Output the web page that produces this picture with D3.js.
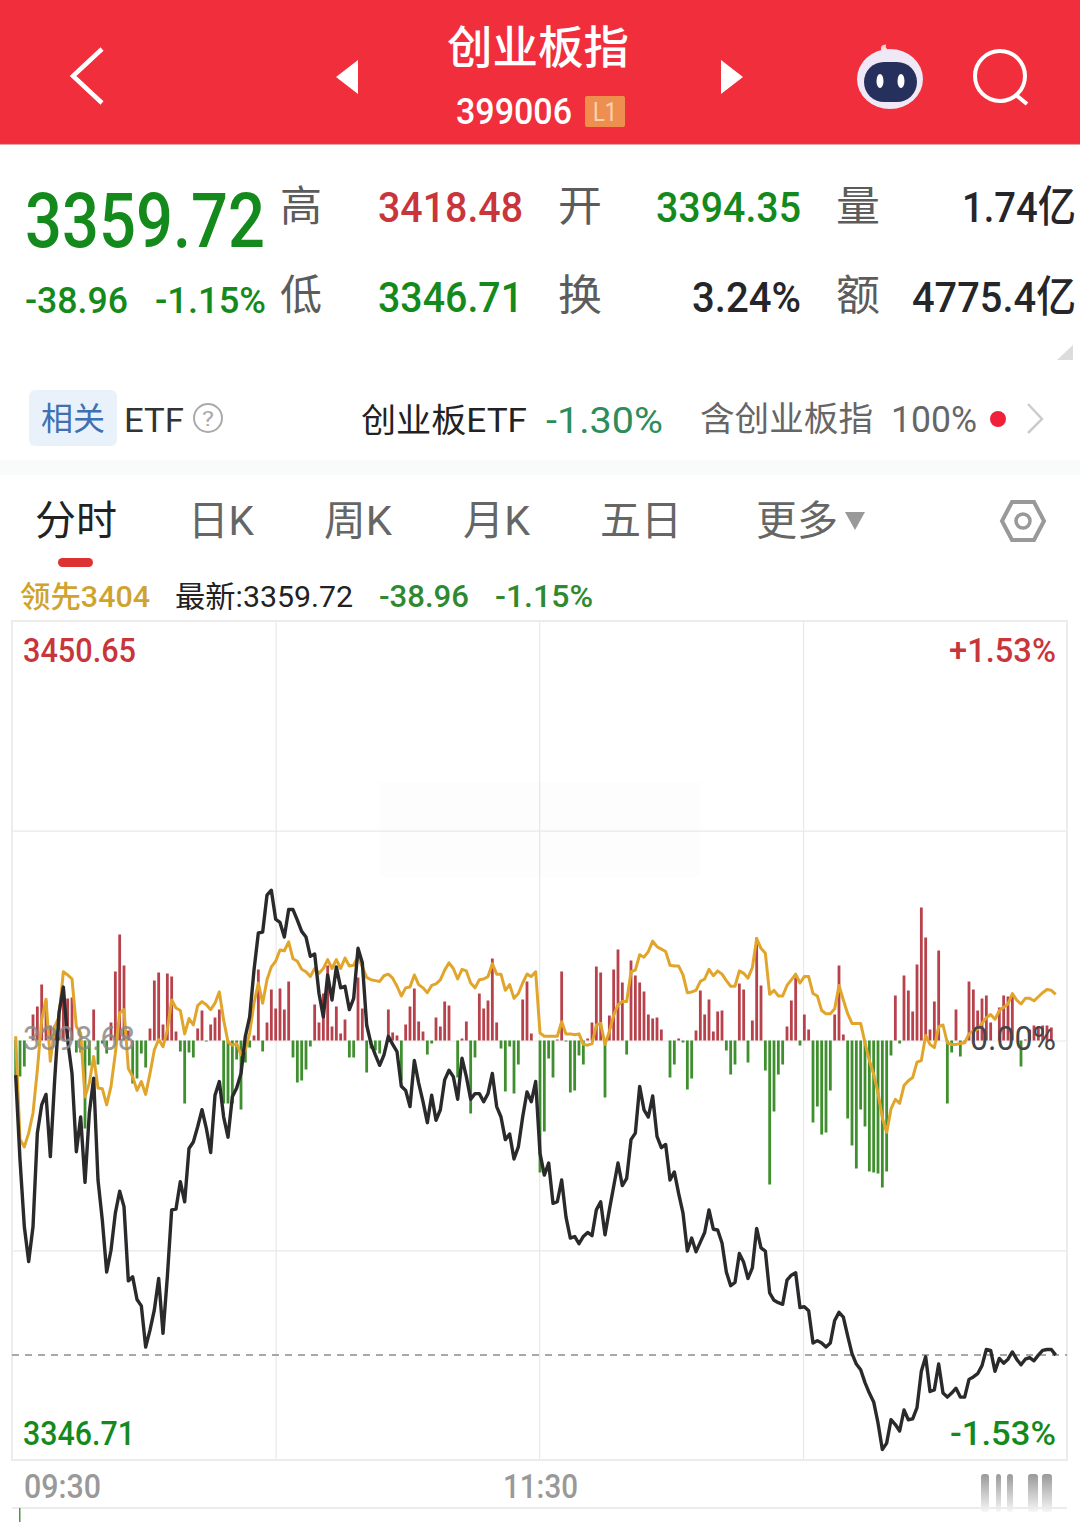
<!DOCTYPE html>
<html>
<head>
<meta charset="utf-8">
<script src="https://cdn.jsdelivr.net/npm/d3@7"></script>
<style>
html, body { margin: 0; padding: 0; background: #fff; }
svg { display: block; }
text { font-family: "Roboto", "Noto Sans CJK SC", sans-serif; }
</style>
</head>
<body>
<div id="chart"></div>
<script>
// price line, one value a minute
var priceValues = [
3394.4,3383.9,3375.6,3371.3,3375.6,3387.2,3390.7,3392.0,3384.3,3393.8,
3402.1,3405.3,3398.7,3394.6,3384.9,3389.2,3381.1,3389.7,3394.0,3381.4,
3376.4,3370.0,3372.7,3377.3,3380.0,3378.1,3368.9,3369.4,3366.6,3365.8,
3360.7,3362.8,3365.3,3369.2,3362.4,3369.4,3377.7,3377.8,3381.2,3378.7,
3385.3,3386.1,3388.0,3390.1,3387.8,3384.8,3391.9,3393.6,3389.2,3386.7,
3391.7,3392.8,3394.6,3399.2,3401.6,3407.4,3412.0,3412.1,3416.7,3417.3,
3413.7,3413.3,3411.5,3414.9,3414.9,3413.6,3412.2,3411.5,3409.1,3409.4,
3404.5,3401.6,3406.8,3403.7,3407.8,3405.2,3405.4,3402.5,3403.9,3410.1,
3408.3,3400.6,3398.3,3396.9,3395.6,3396.9,3399.2,3398.2,3397.3,3393.0,
3392.5,3390.5,3396.2,3393.4,3391.1,3388.5,3391.9,3388.8,3390.1,3393.8,
3395.0,3394.2,3391.4,3396.5,3394.2,3391.4,3392.1,3392.1,3391.1,3392.1,
3394.6,3390.5,3389.2,3386.4,3387.1,3384.0,3385.5,3389.2,3392.3,3391.1,
3393.6,3384.7,3382.0,3383.5,3378.5,3378.7,3381.4,3376.8,3374.2,3374.4,
3373.5,3374.4,3374.9,3374.5,3377.7,3378.7,3374.6,3377.7,3380.6,3383.5,
3380.7,3381.6,3386.4,3387.2,3393.0,3390.1,3389.2,3391.8,3386.8,3385.4,
3385.8,3381.4,3382.4,3379.7,3377.3,3372.6,3374.2,3372.5,3373.7,3374.9,
3377.7,3375.3,3375.2,
3373.6,3370.0,3368.3,3368.7,3372.3,3371.2,3369.2,3370.5,3375.4,3373.0,
3372.6,3367.4,3366.5,3366.2,3366.0,3369.0,3369.6,3369.9,3365.6,3365.7,
3365.2,3361.2,3361.5,3361.2,3360.7,3361.2,3364.0,3365.0,3364.4,3362.1,
3359.9,3358.6,3357.9,3356.3,3355.0,3353.9,3351.3,3348.0,3348.8,3351.7,
3351.1,3350.3,3352.9,3351.7,3351.8,3353.2,3357.7,3359.5,3355.2,3355.4,
3358.6,3355.0,3354.5,3355.0,3355.6,3354.5,3354.5,3356.7,3357.0,3357.4,
3358.4,3360.4,3360.3,3357.7,3359.3,3358.7,3359.2,3360.1,3359.2,3358.5,
3359.2,3359.4,3359.0,3359.7,3360.3,3360.4,3360.4,3359.7
];

// 领先 line
var leadValues = [
3399.2,3386.4,3385.5,3387.2,3389.7,3395.0,3401.2,3403.8,3396.1,3400.4,
3401.6,3407.2,3406.8,3406.3,3400.4,3399.6,3391.7,3393.4,3396.7,3392.8,
3392.7,3390.7,3393.0,3397.1,3402.1,3402.5,3395.2,3394.2,3392.5,3393.6,
3392.0,3394.6,3397.5,3398.8,3397.9,3400.0,3403.7,3402.7,3402.4,3399.5,
3401.4,3400.6,3403.0,3403.5,3403.1,3402.5,3403.3,3404.7,3401.2,3398.5,
3398.1,3398.3,3396.9,3397.5,3399.6,3403.3,3405.8,3403.3,3406.2,3407.8,
3408.5,3409.9,3409.8,3410.9,3408.8,3408.5,3407.5,3407.2,3406.6,3407.6,
3407.0,3407.6,3408.7,3407.6,3408.7,3407.6,3408.9,3407.9,3408.0,3409.1,
3407.8,3406.5,3406.2,3406.1,3406.0,3406.7,3406.9,3406.4,3405.4,3404.2,
3405.2,3405.3,3406.8,3405.6,3405.2,3404.6,3405.5,3405.7,3406.2,3407.4,
3408.3,3407.6,3406.3,3407.5,3407.3,3405.8,3405.2,3406.2,3406.3,3406.6,
3408.2,3406.9,3406.9,3404.9,3405.6,3403.9,3404.5,3405.8,3406.9,3406.6,
3407.2,3399.6,3399.2,3399.2,3399.2,3399.2,3401.0,3399.5,3399.5,3399.4,
3399.5,3398.2,3398.1,3398.3,3400.6,3400.8,3398.2,3399.8,3401.8,3403.1,
3403.5,3403.5,3407.2,3407.4,3409.3,3409.0,3409.7,3411.0,3410.3,3410.0,
3409.7,3408.0,3407.9,3407.9,3406.8,3404.6,3404.7,3404.9,3406.0,3406.3,
3407.5,3406.7,3407.3,
3406.9,3406.1,3405.4,3405.4,3407.3,3407.0,3406.4,3407.7,3411.3,3410.1,
3409.5,3404.4,3404.9,3404.2,3404.2,3405.5,3406.2,3406.9,3405.8,3406.6,
3406.6,3404.5,3404.2,3402.4,3402.0,3402.0,3402.6,3405.5,3403.7,3402.0,
3400.8,3400.8,3400.8,3398.4,3396.2,3394.5,3392.2,3389.1,3387.3,3390.2,
3391.4,3390.9,3393.1,3393.7,3394.1,3396.0,3396.2,3399.3,3398.2,3397.8,
3400.4,3400.6,3398.4,3398.2,3398.2,3398.3,3398.4,3399.5,3399.9,3400.1,
3400.8,3401.5,3401.9,3401.3,3402.4,3402.8,3403.2,3404.5,3403.7,3403.2,
3403.9,3403.9,3403.6,3404.1,3404.6,3405.0,3404.9,3404.4
];

// red/green strength bars
var barValues = [
-35,-36,-26,0,26,34,56,40,15,15,
25,53,42,43,-12,-12,-88,-25,31,-24,
-3,-13,18,69,106,75,10,-43,-38,-13,
-27,12,60,68,16,67,64,9,-11,-63,
-12,-17,12,30,-1,16,23,31,-63,-63,
-63,-19,-69,-22,-7,5,71,-11,18,51,
32,52,31,59,-17,-42,-40,-29,-6,36,
18,47,75,14,34,7,21,-17,-17,63,
32,-32,-8,-10,-13,0,31,8,5,-40,
16,34,52,19,9,-14,-3,23,14,39,
35,0,-37,2,19,-73,-17,47,32,40,
82,18,-8,-51,-6,-53,-24,41,59,7,
0,-132,-91,-18,-37,1,69,-1,-52,-50,
-15,-24,2,18,74,68,-57,25,71,91,
58,-14,80,65,58,49,26,22,23,11,
0,-37,-24,2,-2,-49,-38,10,50,26,
41,9,29,
30,-10,-34,-24,57,51,-22,20,103,55,
-30,-144,-71,-34,-24,14,40,63,-5,26,
11,-82,-66,-94,-92,-50,26,75,6,-78,
-105,-128,-69,-86,-131,-132,-133,-147,-131,-15,
45,-3,65,50,29,76,133,103,11,39,
90,0,-63,-12,31,-16,-1,59,51,30,
42,45,18,0,33,45,44,46,0,-26,
1,11,15,14,15,15,13,0
];

var yTicks = [3450.65, 3424.67, 3398.68, 3372.69, 3346.71];
var xTicks = [60, 120.8, 181.7];
var lastPrice = 3359.72;
var timeLabels = ["09:30", "11:30"];
var tabNames = ["分时", "日K", "周K", "月K", "五日", "更多"];

var width = 1080, height = 1522;
var red = "#c8363c", green = "#158a1c", dark = "#26262a", grey = "#5c5c5c";

var svg = d3.select("#chart").append("svg")
    .attr("width", width)
    .attr("height", height)
    .attr("viewBox", "0 0 " + width + " " + height);

// text squeezed to the width it has in the picture
function label(x0, x1, base, size, color, str, weight) {
    return svg.append("text")
        .attr("x", x0)
        .attr("y", base)
        .attr("font-size", size)
        .attr("font-weight", weight || 400)
        .attr("fill", color)
        .attr("textLength", x1 - x0)
        .attr("lengthAdjust", "spacingAndGlyphs")
        .text(str);
}

/* header */
svg.append("rect").attr("width", width).attr("height", 143).attr("fill", "#f12e3b");
svg.append("rect").attr("y", 143).attr("width", width).attr("height", 1.5).attr("fill", "#c9484f");

svg.append("path").attr("d", "M102,49L73,76L102,103")
    .attr("fill", "none").attr("stroke", "#fff").attr("stroke-width", 4.5);
svg.append("path").attr("d", "M358,60L336,77L358,94Z").attr("fill", "#fff");
svg.append("path").attr("d", "M721,60L743,77L721,94Z").attr("fill", "#fff");

label(447, 629, 64, 45, "#fff", "创业板指", 500);
label(456, 572, 124, 36, "#fff", "399006", 500);
svg.append("rect").attr("x", 585).attr("y", 96).attr("width", 40).attr("height", 31).attr("rx", 2).attr("fill", "#ee8f50");
label(593, 617, 121, 25, "#fbd3b4", "L1");

// robot
svg.append("path").attr("d", "M884,52Q880,46 886,46").attr("fill", "none").attr("stroke", "#f9c9cc").attr("stroke-width", 3);
svg.append("circle").attr("cx", 884).attr("cy", 50).attr("r", 3).attr("fill", "#fbdcdd");
svg.append("ellipse").attr("cx", 890).attr("cy", 79).attr("rx", 33).attr("ry", 30).attr("fill", "#efe8f6");
svg.append("rect").attr("x", 864).attr("y", 62).attr("width", 53).attr("height", 40).attr("rx", 20).attr("fill", "#26305c");
svg.append("ellipse").attr("cx", 880).attr("cy", 81).attr("rx", 3.5).attr("ry", 7).attr("fill", "#fff");
svg.append("ellipse").attr("cx", 901).attr("cy", 81).attr("rx", 3.5).attr("ry", 7).attr("fill", "#fff");

// search
svg.append("circle").attr("cx", 1000).attr("cy", 76).attr("r", 25)
    .attr("fill", "none").attr("stroke", "#fff").attr("stroke-width", 4);
svg.append("path").attr("d", "M1016,95L1027,104").attr("stroke", "#fff").attr("stroke-width", 4);

/* quote block */
label(25, 265, 247, 76, green, "3359.72", 500);
label(25, 128, 313, 36, green, "-38.96", 500);
label(155, 266, 313, 36, green, "-1.15%", 500);

label(280, 322, 221, 42, grey, "高");
label(280, 322, 310, 42, grey, "低");
label(378, 523, 222, 43, red, "3418.48", 500);
label(378, 523, 312, 43, green, "3346.71", 500);
label(558, 602, 221, 42, grey, "开");
label(558, 602, 310, 42, grey, "换");
label(656, 801, 222, 43, green, "3394.35", 500);
label(692, 801, 312, 43, dark, "3.24%", 500);
label(836, 880, 221, 42, grey, "量");
label(836, 880, 310, 42, grey, "额");
label(962, 1076, 222, 43, dark, "1.74亿", 500);
label(912, 1076, 312, 43, dark, "4775.4亿", 500);
svg.append("path").attr("d", "M1057,360L1073,360L1073,345Z").attr("fill", "#dcdcdc");

/* etf row */
svg.append("rect").attr("x", 29).attr("y", 390).attr("width", 88).attr("height", 56).attr("rx", 6).attr("fill", "#e9f1fb");
label(41, 105, 430, 32, "#3f70b2", "相关");
label(124, 184, 432, 34, "#333", "ETF");
svg.append("circle").attr("cx", 208).attr("cy", 418).attr("r", 14).attr("fill", "none").attr("stroke", "#aaa").attr("stroke-width", 2);
label(202, 214, 426, 21, "#aaa", "?");
label(361, 527, 432, 33, "#222", "创业板ETF");
label(546, 663, 433, 36, "#2d8c5c", "-1.30%");
label(700, 873, 431, 34, "#666", "含创业板指");
label(891, 977, 432, 36, "#666", "100%");
svg.append("circle").attr("cx", 998).attr("cy", 419).attr("r", 8).attr("fill", "#f0203a");
svg.append("path").attr("d", "M1028,404L1042,419L1028,433").attr("fill", "none").attr("stroke", "#ccc").attr("stroke-width", 2.5);
svg.append("rect").attr("y", 460).attr("width", width).attr("height", 15).attr("fill", "#f9fafa");

/* tabs */
var tabX = [[35, 117], [188, 254], [324, 392], [463, 530], [600, 682], [756, 838]];
tabNames.forEach(function(d, i) {
    label(tabX[i][0], tabX[i][1], 535, 41, i == 0 ? "#222" : "#666", d);
});
svg.append("path").attr("d", "M845,512L865,512L855,530Z").attr("fill", "#999");
svg.append("path").attr("d", "M1012,502L1034,502L1044,521L1034,540L1012,540L1002,521Z")
    .attr("fill", "none").attr("stroke", "#999").attr("stroke-width", 4);
svg.append("circle").attr("cx", 1023).attr("cy", 521).attr("r", 7).attr("fill", "none").attr("stroke", "#999").attr("stroke-width", 3.5);
svg.append("rect").attr("x", 58).attr("y", 558).attr("width", 35).attr("height", 9).attr("rx", 4.5).attr("fill", "#dc3232");

label(20, 150, 607, 30, "#cfa32f", "领先3404", 500);
label(175, 353, 607, 30, "#222", "最新:3359.72");
label(379, 469, 607, 31, "#2f8a2f", "-38.96", 500);
label(495, 593, 607, 31, "#2f8a2f", "-1.15%", 500);

/* chart */
var x = d3.scaleLinear().domain([0, 240]).range([15.67, 1055.67]);
var y = d3.scaleLinear().domain([3346.71, 3450.65]).range([1460, 621]);
var barY = d3.scaleLinear().domain([-419.5, 419.5]).range([1460, 621]);

// faint watermark left in the picture
svg.append("rect").attr("x", 380).attr("y", 782).attr("width", 320).attr("height", 95).attr("fill", "#fdfdfd");

// grid
var yGrid = svg.append("g").attr("transform", "translate(12,0)")
    .call(d3.axisRight(y).tickValues(yTicks).tickSize(1055).tickFormat(""));
var xGrid = svg.append("g").attr("transform", "translate(0,621)")
    .call(d3.axisBottom(x).tickValues(xTicks).tickSize(839).tickFormat(""));
[yGrid, xGrid].forEach(function(g) {
    g.select(".domain").remove();
    g.selectAll("line").attr("stroke", "#e8e8e8").attr("stroke-width", 1.2);
});
svg.append("rect").attr("x", 12).attr("y", 621).attr("width", 1055).attr("height", 839)
    .attr("fill", "none").attr("stroke", "#ececec").attr("stroke-width", 2);

// dashed last price
svg.append("line")
    .attr("x1", 12).attr("x2", 1067)
    .attr("y1", y(lastPrice)).attr("y2", y(lastPrice))
    .attr("stroke", "#8c8c8c").attr("stroke-width", 1.5).attr("stroke-dasharray", "7,6");

// bars
svg.append("g").selectAll("rect")
    .data(barValues)
    .enter().append("rect")
    .attr("x", function(d, i) { return x(i) - 1.4; })
    .attr("width", 2.8)
    .attr("y", function(d) { return Math.min(barY(d), barY(0)); })
    .attr("height", function(d) { return Math.abs(barY(d) - barY(0)); })
    .attr("fill", function(d) { return d > 0 ? "#b8424c" : "#3f8f2e"; });

var line = d3.line()
    .x(function(d, i) { return x(i); })
    .y(function(d) { return y(d); });

svg.append("path").datum(leadValues)
    .attr("d", line)
    .attr("fill", "none").attr("stroke", "#e2a52c").attr("stroke-width", 3).attr("stroke-linejoin", "round");
svg.append("path").datum(priceValues)
    .attr("d", line)
    .attr("fill", "none").attr("stroke", "#2a2a2c").attr("stroke-width", 3.4).attr("stroke-linejoin", "round");

// axis labels
label(23, 136, 662, 33, red, "3450.65", 500);
label(949, 1056, 662, 33, red, "+1.53%", 500);
label(23, 135, 1050, 33, "#8a8a8a", "3398.68").attr("opacity", 0.85);
label(970, 1056, 1050, 33, "#45454a", "0.00%");
label(23, 135, 1445, 33, green, "3346.71", 500);
label(950, 1056, 1445, 33, green, "-1.53%", 500);

label(24, 101, 1498, 33, "#999", timeLabels[0], 500);
label(503, 578, 1498, 33, "#999", timeLabels[1], 500);

// smudged last time label
var smudge = svg.append("defs").append("linearGradient").attr("id", "smudge")
    .attr("x1", 0).attr("x2", 0).attr("y1", 0).attr("y2", 1);
smudge.append("stop").attr("offset", 0).attr("stop-color", "#999");
smudge.append("stop").attr("offset", 1).attr("stop-color", "#f6f6f6");
[[981, 8], [996, 5], [1007, 6], [1028, 10], [1042, 10]].forEach(function(d) {
    svg.append("rect").attr("x", d[0]).attr("y", 1474).attr("width", d[1]).attr("height", 38)
        .attr("rx", 3).attr("fill", "url(#smudge)");
});

// next panel peeking in at the bottom
svg.append("rect").attr("x", 12).attr("y", 1507).attr("width", 1055).attr("height", 2).attr("fill", "#ececec");
svg.append("rect").attr("x", 19).attr("y", 1508).attr("width", 1.5).attr("height", 14).attr("fill", "#4a9a3a");
</script>
</body>
</html>
